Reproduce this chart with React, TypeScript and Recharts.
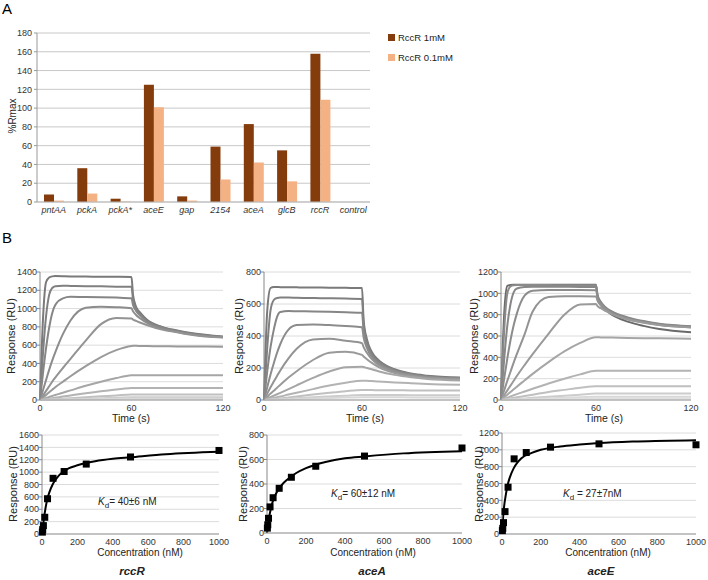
import React from 'react';
import {
  BarChart,
  Bar,
  XAxis,
  YAxis,
  CartesianGrid,
  LineChart,
  Line,
  ComposedChart,
  Scatter,
} from 'recharts';

// ---- panel A ----
const genes = ['pntAA', 'pckA', 'pckA*', 'aceE', 'gap', '2154', 'aceA', 'glcB', 'rccR', 'control'];
const rccr1mM = [8, 36, 3.5, 125, 6, 59, 83, 55, 158, 0];
const rccr01mM = [1.5, 9, 0.5, 101, 1.5, 24, 42, 22, 109, 0];
const seriesNames = ['RccR 1mM', 'RccR 0.1mM'];
const rmaxTicks = [0, 20, 40, 60, 80, 100, 120, 140, 160, 180];

// ---- panel B, sensorgrams ----
const time = [0, 2, 4, 6, 8, 10, 15, 20, 30, 40, 50, 60, 61, 63, 66, 70, 80, 90, 100, 120];
const timeTicks = [0, 60, 120];

const rccRCurves = [
  [0, 900, 1290, 1340, 1352, 1355, 1354, 1352, 1350, 1348, 1347, 1345, 1150, 1020, 950, 880, 800, 760, 730, 695],
  [0, 520, 920, 1150, 1225, 1245, 1250, 1248, 1245, 1243, 1240, 1238, 1100, 1000, 935, 870, 795, 755, 725, 690],
  [0, 300, 570, 790, 950, 1040, 1112, 1128, 1127, 1125, 1120, 1112, 1040, 975, 920, 860, 790, 750, 720, 688],
  [0, 110, 220, 330, 430, 520, 720, 870, 1008, 1020, 1015, 1003, 970, 930, 890, 845, 780, 745, 715, 685],
  [0, 50, 100, 150, 200, 245, 350, 450, 650, 830, 898, 892, 880, 865, 845, 820, 770, 740, 712, 683],
  [0, 28, 56, 84, 112, 140, 200, 260, 370, 470, 545, 590, 592, 592, 591, 590, 588, 586, 585, 582],
  [0, 11, 22, 33, 44, 55, 80, 105, 155, 200, 240, 270, 271, 271, 271, 271, 270, 270, 270, 270],
  [0, 5, 10, 15, 20, 25, 38, 50, 75, 95, 115, 130, 131, 131, 131, 131, 130, 130, 130, 130],
  [0, 2, 4, 6, 8, 10, 15, 20, 30, 40, 50, 60, 60, 60, 60, 60, 60, 60, 60, 60],
  [0, 1, 2, 3, 4, 5, 8, 10, 15, 20, 25, 30, 30, 30, 30, 30, 30, 30, 30, 30],
  [0, 0.5, 1, 1.5, 2, 2.5, 4, 5, 8, 10, 12, 15, 15, 15, 15, 15, 15, 15, 15, 15],
];

const aceACurves = [
  [0, 560, 700, 706, 706, 705, 705, 704, 703, 702, 701, 700, 500, 380, 300, 250, 192, 165, 152, 140],
  [0, 330, 560, 625, 638, 640, 640, 639, 637, 636, 634, 632, 470, 365, 290, 245, 188, 163, 149, 138],
  [0, 180, 330, 440, 520, 550, 556, 555, 553, 551, 548, 545, 430, 345, 280, 238, 185, 160, 146, 136],
  [0, 80, 160, 230, 295, 350, 440, 468, 472, 468, 462, 455, 390, 325, 268, 230, 180, 157, 144, 134],
  [0, 40, 80, 115, 150, 185, 260, 320, 378, 383, 370, 355, 330, 295, 255, 220, 175, 153, 141, 132],
  [0, 20, 40, 58, 77, 95, 140, 180, 250, 295, 302, 282, 272, 255, 232, 207, 168, 148, 138, 128],
  [0, 9, 18, 27, 36, 45, 68, 92, 138, 178, 205, 208, 206, 200, 192, 180, 157, 142, 132, 122],
  [0, 4, 9, 13, 18, 22, 34, 45, 68, 90, 108, 121, 121, 120, 118, 116, 110, 105, 100, 95],
  [0, 2, 4, 6, 8, 10, 16, 22, 34, 45, 55, 62, 62, 62, 62, 61, 61, 60, 60, 59],
  [0, 1, 2, 3, 4, 5, 8, 11, 17, 22, 27, 31, 31, 31, 31, 31, 31, 30, 30, 30],
  [0, 0.5, 1, 1.5, 2, 3, 4, 6, 9, 12, 15, 17, 17, 17, 17, 17, 17, 16, 16, 16],
];

const aceECurves = [
  [0, 800, 1070, 1078, 1080, 1080, 1080, 1080, 1080, 1080, 1080, 1080, 960, 890, 845, 800, 735, 695, 665, 635],
  [0, 650, 1000, 1065, 1075, 1077, 1077, 1077, 1077, 1076, 1076, 1075, 985, 920, 870, 830, 775, 740, 715, 692],
  [0, 380, 700, 900, 1010, 1045, 1060, 1062, 1062, 1061, 1060, 1060, 975, 915, 865, 825, 770, 735, 710, 688],
  [0, 200, 390, 560, 700, 810, 980, 1025, 1032, 1032, 1031, 1030, 960, 905, 860, 820, 765, 732, 707, 685],
  [0, 90, 180, 265, 350, 430, 620, 830, 965, 972, 972, 970, 930, 890, 850, 812, 760, 728, 704, 682],
  [0, 45, 90, 135, 180, 225, 330, 430, 620, 800, 895, 900, 880, 860, 835, 805, 755, 725, 702, 680],
  [0, 25, 50, 75, 100, 125, 185, 245, 355, 455, 535, 588, 588, 587, 586, 585, 582, 580, 578, 575],
  [0, 11, 22, 33, 44, 55, 80, 105, 155, 200, 240, 275, 275, 275, 275, 275, 275, 275, 275, 275],
  [0, 5, 10, 15, 20, 25, 38, 50, 75, 95, 115, 130, 130, 130, 130, 130, 130, 130, 130, 130],
  [0, 2, 4, 6, 8, 10, 15, 20, 30, 40, 50, 60, 60, 60, 60, 60, 60, 60, 60, 60],
  [0, 1, 2, 3, 4, 5, 8, 10, 15, 20, 25, 30, 30, 30, 30, 30, 30, 30, 30, 30],
  [0, 0.5, 1, 1.5, 2, 2.5, 4, 5, 8, 10, 12, 15, 15, 15, 15, 15, 15, 15, 15, 15],
];

// ---- panel B, steady-state fits ----
const concTicks = [0, 200, 400, 600, 800, 1000];
const conc = [1.95, 3.9, 7.8, 15.6, 31.25, 62.5, 125, 250, 500, 1000];
const rccRResp = [30, 70, 135, 270, 570, 900, 1010, 1130, 1245, 1350];
const aceAResp = [40, 67, 120, 213, 288, 365, 455, 545, 628, 694];
const aceEResp = [40, 67, 135, 266, 556, 893, 968, 1032, 1071, 1060];

const fitConc = [0, 5, 10, 20, 30, 40, 60, 80, 100, 150, 200, 300, 400, 500, 700, 1000];
const rccRFit = [0, 100, 230, 420, 560, 660, 800, 890, 960, 1060, 1110, 1175, 1215, 1240, 1290, 1330];
const aceAFit = [0, 65, 120, 200, 260, 300, 360, 400, 430, 490, 530, 580, 610, 625, 650, 668];
const aceEFit = [0, 180, 310, 470, 590, 670, 780, 850, 900, 960, 1000, 1040, 1062, 1080, 1100, 1115];

const FONT = '"Liberation Sans", Arial, sans-serif';
const TICK = { fontSize: 9, fill: '#333', fontFamily: FONT };

const greys = ['#7a7a7a', '#808080', '#868686', '#8c8c8c', '#939393', '#9a9a9a', '#a6a6a6', '#b3b3b3', '#c0c0c0', '#cccccc', '#d8d8d8', '#e0e0e0'];
const greysE = ['#6a6a6a', '#8a8a8a', '#878787', '#8c8c8c', '#939393', '#9a9a9a', '#a6a6a6', '#b3b3b3', '#c0c0c0', '#cccccc', '#d8d8d8', '#e0e0e0'];

function toRows(curves: number[][]) {
  return time.map((t, i) => {
    const row: Record<string, number> = { t };
    curves.forEach((c, j) => {
      row['c' + j] = c[i];
    });
    return row;
  });
}

function toPoints(xs: number[], ys: number[]) {
  return xs.map((x, i) => ({ x, y: ys[i] }));
}

function yTicksOf(max: number) {
  const out: number[] = [];
  for (let v = 0; v <= max; v += 200) out.push(v);
  return out;
}

function Abs({ x, y, rotate, children, style }: any) {
  return (
    <div
      style={{
        position: 'absolute',
        left: x,
        top: y,
        transform: `translate(-50%, -50%)${rotate ? ' rotate(-90deg)' : ''}`,
        whiteSpace: 'nowrap',
        fontFamily: FONT,
        color: '#222',
        ...style,
      }}
    >
      {children}
    </div>
  );
}

function Sensorgram({ left, top, width, height, yw, curves, colors, yMax }: any) {
  const rows = toRows(curves);
  return (
    <div style={{ position: 'absolute', left, top }}>
      <LineChart width={width} height={height} data={rows} margin={{ top: 10, right: 10, left: 0, bottom: 0 }}>
        <CartesianGrid vertical={false} stroke="#dcdcdc" />
        <XAxis
          type="number"
          dataKey="t"
          domain={[0, 120]}
          ticks={timeTicks}
          tick={TICK}
          tickLine={false}
          tickSize={3}
          tickMargin={2}
          stroke="#999"
          height={16}
        />
        <YAxis
          type="number"
          domain={[0, yMax]}
          ticks={yTicksOf(yMax)}
          interval={0}
          tick={TICK}
          tickSize={3}
          tickMargin={0}
          stroke="#888"
          width={yw}
        />
        {curves.map((_: number[], j: number) => (
          <Line
            key={j}
            dataKey={'c' + j}
            type="monotone"
            stroke={colors[j]}
            strokeWidth={2}
            dot={false}
            isAnimationActive={false}
          />
        ))}
      </LineChart>
    </div>
  );
}

const square = (p: any) => <rect x={p.cx - 3.5} y={p.cy - 3.5} width={7} height={7} fill="#000" />;

function Binding({ left, top, width, height, yw, resp, fit, yMax }: any) {
  return (
    <div style={{ position: 'absolute', left, top }}>
      <ComposedChart width={width} height={height} margin={{ top: 10, right: 12, left: 0, bottom: 0 }}>
        <CartesianGrid vertical={false} stroke="#dcdcdc" />
        <XAxis
          type="number"
          dataKey="x"
          domain={[0, 1000]}
          ticks={concTicks}
          tick={TICK}
          tickLine={false}
          tickSize={3}
          tickMargin={2}
          stroke="#999"
          height={16}
        />
        <YAxis
          type="number"
          dataKey="y"
          domain={[0, yMax]}
          ticks={yTicksOf(yMax)}
          interval={0}
          tick={TICK}
          tickSize={3}
          tickMargin={0}
          stroke="#888"
          width={yw}
        />
        <Line
          data={toPoints(fitConc, fit)}
          dataKey="y"
          type="monotone"
          stroke="#000"
          strokeWidth={2}
          dot={false}
          isAnimationActive={false}
        />
        <Scatter data={toPoints(conc, resp)} dataKey="y" shape={square} isAnimationActive={false} />
      </ComposedChart>
    </div>
  );
}

export default function App() {
  const barData = genes.map((g, i) => ({ gene: g, a: rccr1mM[i], b: rccr01mM[i] }));
  const barColors = ['#843C0C', '#F4B183'];
  const resp = 'Response (RU)';
  const geneTitle = { fontSize: 11.5, fontWeight: 'bold', fontStyle: 'italic' };

  return (
    <div style={{ position: 'absolute', left: 0, top: 0, width: 708, height: 580, background: '#fff', fontFamily: FONT, overflow: 'hidden' }}>
      <div style={{ position: 'absolute', left: 2, top: 0, fontSize: 15, fontFamily: FONT }}>A</div>
      <div style={{ position: 'absolute', left: 2, top: 229, fontSize: 15, fontFamily: FONT }}>B</div>

      <div style={{ position: 'absolute', left: 0, top: 0 }}>
        <BarChart
          width={375}
          height={222}
          data={barData}
          margin={{ top: 33, right: 5, left: 7, bottom: 0 }}
          barSize={10}
          barGap={0}
        >
          <CartesianGrid vertical={false} stroke="#c8c8c8" />
          <XAxis
            dataKey="gene"
            interval={0}
            tick={{ ...TICK, fontStyle: 'italic' }}
            tickLine={false}
            tickSize={0}
            tickMargin={5}
            stroke="#bbb"
            height={20}
          />
          <YAxis
            domain={[0, 180]}
            ticks={rmaxTicks}
            interval={0}
            tick={TICK}
            tickSize={3}
            tickMargin={2}
            stroke="#999"
            width={30}
          />
          <Bar dataKey="a" name={seriesNames[0]} fill={barColors[0]} isAnimationActive={false} />
          <Bar dataKey="b" name={seriesNames[1]} fill={barColors[1]} isAnimationActive={false} />
        </BarChart>
      </div>
      <Abs x={12} y={116} rotate style={{ fontSize: 10 }}>%Rmax</Abs>
      {seriesNames.map((n, i) => (
        <div
          key={n}
          style={{ position: 'absolute', left: 388, top: 32 + i * 20, display: 'flex', alignItems: 'center', fontSize: 9.5, color: '#222' }}
        >
          <span style={{ display: 'inline-block', width: 7, height: 7, background: barColors[i], marginRight: 3 }} />
          {n}
        </div>
      ))}

      <Sensorgram left={0} top={262} width={233} height={154} yw={40} curves={rccRCurves} colors={greys} yMax={1400} />
      <Sensorgram left={224} top={262} width={246} height={154} yw={40} curves={aceACurves} colors={greys} yMax={800} />
      <Sensorgram left={461} top={262} width={240} height={154} yw={40} curves={aceECurves} colors={greysE} yMax={1200} />

      <Abs x={11} y={336} rotate style={{ fontSize: 11 }}>{resp}</Abs>
      <Abs x={239} y={336} rotate style={{ fontSize: 11 }}>{resp}</Abs>
      <Abs x={474} y={336} rotate style={{ fontSize: 11 }}>{resp}</Abs>
      <Abs x={131} y={418} style={{ fontSize: 10.5 }}>Time (s)</Abs>
      <Abs x={365} y={418} style={{ fontSize: 10.5 }}>Time (s)</Abs>
      <Abs x={604} y={418} style={{ fontSize: 10.5 }}>Time (s)</Abs>

      <Binding left={0} top={425} width={231} height={125} yw={42} resp={rccRResp} fit={rccRFit} yMax={1600} />
      <Binding left={227} top={425} width={247} height={124} yw={40} resp={aceAResp} fit={aceAFit} yMax={800} />
      <Binding left={462} top={423} width={246} height={127} yw={40} resp={aceEResp} fit={aceEFit} yMax={1200} />

      <Abs x={13} y={484} rotate style={{ fontSize: 11 }}>{resp}</Abs>
      <Abs x={243} y={484} rotate style={{ fontSize: 11 }}>{resp}</Abs>
      <Abs x={479} y={484} rotate style={{ fontSize: 11 }}>{resp}</Abs>
      <Abs x={140} y={552} style={{ fontSize: 10 }}>Concentration (nM)</Abs>
      <Abs x={373} y={552} style={{ fontSize: 10 }}>Concentration (nM)</Abs>
      <Abs x={608} y={552} style={{ fontSize: 10 }}>Concentration (nM)</Abs>

      <div style={{ position: 'absolute', left: 98, top: 496, fontSize: 10, color: '#222' }}>
        <i>K</i>
        <sub style={{ fontSize: 8 }}>d</sub>= 40±6 nM
      </div>
      <div style={{ position: 'absolute', left: 331, top: 488, fontSize: 10, color: '#222' }}>
        <i>K</i>
        <sub style={{ fontSize: 8 }}>d</sub>= 60±12 nM
      </div>
      <div style={{ position: 'absolute', left: 563, top: 488, fontSize: 10, color: '#222' }}>
        <i>K</i>
        <sub style={{ fontSize: 8 }}>d</sub> = 27±7nM
      </div>

      <Abs x={132} y={571} style={geneTitle}>rccR</Abs>
      <Abs x={372} y={571} style={geneTitle}>aceA</Abs>
      <Abs x={601} y={571} style={geneTitle}>aceE</Abs>
    </div>
  );
}
